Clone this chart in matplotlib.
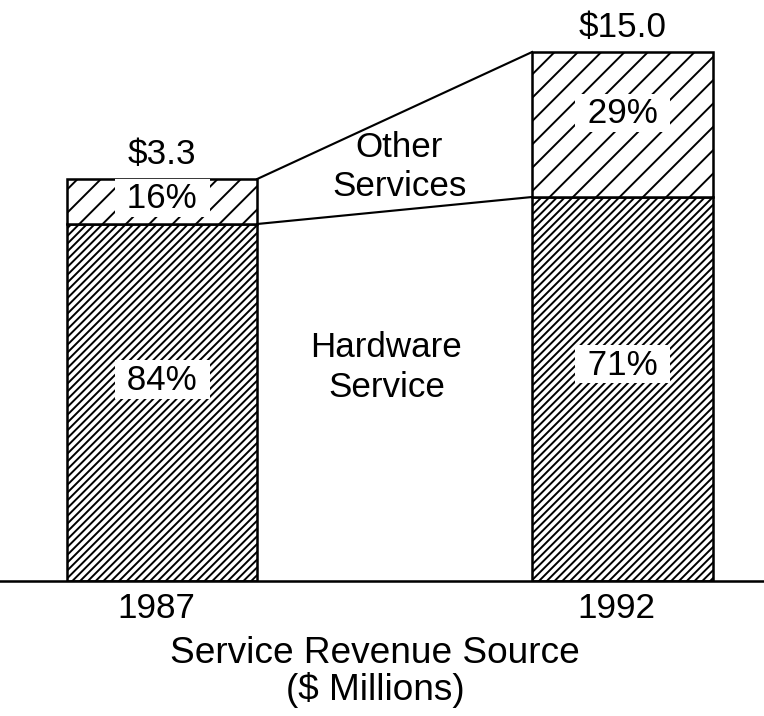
import matplotlib
matplotlib.use('Agg')
import matplotlib.pyplot as plt

# ---- data (chart is drawn not to scale) ----
years = ['1987', '1992']
total_labels = ['$3.3', '$15.0']
hardware_pct = ['84%', '71%']
other_pct = ['16%', '29%']
# segment heights as drawn in the original (arbitrary drawing units)
hardware_height = [3.57, 3.84]
other_height = [0.45, 1.45]
hardware_name = 'Hardware\nService'
other_name = 'Other\nServices'
xlabel = 'Service Revenue Source\n($ Millions)'

plt.rcParams['font.family'] = ['Liberation Sans', 'DejaVu Sans']
plt.rcParams['hatch.linewidth'] = 1.0

DPI = 140
fig = plt.figure(figsize=(764 / DPI, 717 / DPI), dpi=DPI)
fig.patch.set_facecolor('white')
ax = fig.add_axes([0, 135 / 717, 1, 582 / 717])
ax.set_xlim(-0.352, 1.307)
ax.set_ylim(0, 5.82)
ax.axis('off')

x = list(range(len(years)))
widths = [0.413, 0.393]
ax.bar(x, hardware_height, width=widths, color='white', edgecolor='black',
       hatch='//////', linewidth=1.3, zorder=2)
tops = [h + o for h, o in zip(hardware_height, other_height)]
ax.bar(x, other_height, bottom=hardware_height, width=widths, color='white',
       edgecolor='black', hatch='//', linewidth=1.3, zorder=2)

# connector lines between bars
xl = x[0] + widths[0] / 2
xr = x[1] - widths[1] / 2
ax.plot([xl, xr], [tops[0], tops[1]], color='black', lw=1.1, zorder=3)
ax.plot([xl, xr], [hardware_height[0], hardware_height[1]], color='black', lw=1.1, zorder=3)

# baseline
ax.axhline(0, color='black', lw=1.3, clip_on=False, zorder=4)

fs = 18
box = dict(facecolor='white', edgecolor='none', pad=1.5)
for i in x:
    ax.annotate(total_labels[i], (i, tops[i]), xytext=(0, 8), textcoords='offset points',
                ha='center', va='baseline', fontsize=fs)
    ax.text(i, hardware_height[i] * 0.565, ' ' + hardware_pct[i] + ' ', ha='center', va='center',
            fontsize=fs, bbox=box, zorder=5)
    ax.text(i, hardware_height[i] + other_height[i] * 0.58, ' ' + other_pct[i] + ' ',
            ha='center', va='center', fontsize=fs, bbox=box, zorder=5)
    ax.text(i - 0.013, -0.27, years[i], ha='center', va='center', fontsize=18, clip_on=False)

ax.text(0.515, 4.15, other_name, ha='center', va='center', fontsize=fs, linespacing=1.2)
ax.text(0.487, 2.145, hardware_name, ha='center', va='center', fontsize=fs, linespacing=1.29)

fig.text(375 / 764, 1 - 672 / 717, xlabel, ha='center', va='center', fontsize=19, linespacing=1.05)

fig.savefig('out.png', dpi=DPI)
